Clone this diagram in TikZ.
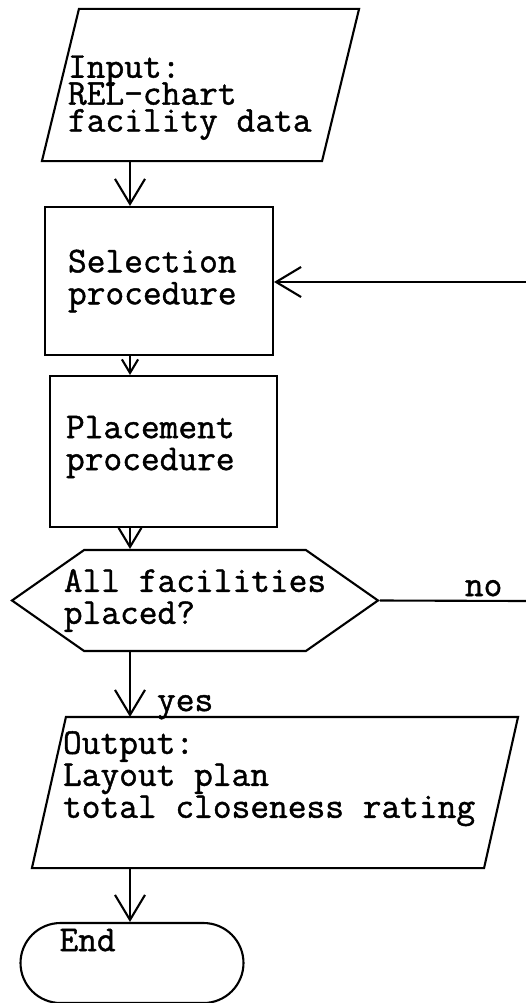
\documentclass[tikz,border=0pt]{standalone}
\usepackage{fontspec}
\usetikzlibrary{arrows.meta,positioning,shapes.misc,shapes.symbols}
\newfontfamily\typewriter{Latin Modern Mono}[FakeBold=1.2]
\newcommand{\flowfont}{\typewriter\fontsize{20.7pt}{18.2pt}\selectfont}
\tikzset{
  outline/.style={draw,line width=1.2pt,font=\flowfont,align=left,inner sep=2pt,
    execute at begin node={\spaceskip=0pt\relax\lineskiplimit=-20pt\relax}},
  procbox/.style={outline,rectangle},
  iobox/.style={outline,rectangle,draw=none,
    append after command={\pgfextra{\draw[line width=1.2pt]
      ([xshift=#1]\tikzlastnode.north west) -- (\tikzlastnode.north east)
      -- ([xshift=-#1]\tikzlastnode.south east) -- (\tikzlastnode.south west) -- cycle;}}},
  testbox/.style={outline,signal,signal to=east and west,signal pointer angle=70,inner xsep=-0.45cm},
  endbox/.style={outline,rounded rectangle},
  flow/.style={line width=1.2pt,-{Straight Barb[length=#1,width'=0pt 1.2]}},
  flow/.default=0.5cm,
  tag/.style={font=\flowfont,inner sep=2pt}
}
\begin{document}
\begin{tikzpicture}
  \useasboundingbox (0,0) rectangle (10.52,-20.06);
  \coordinate (spine) at (2.6,0);
  % boxes
  \node[iobox=0.74cm,minimum width=6.3cm,minimum height=3cm,text width=5.3cm,text height=0.94cm,text depth=1.23cm,
    font=\typewriter\fontsize{20.7pt}{15.3pt}\selectfont] (input) at (4.01,-1.70)
    {Input:\\REL-chart\\facility data};
  \node[procbox,minimum width=4.56cm,minimum height=2.96cm,text width=3.64cm] (select) at (3.18,-5.62)
    {Selection\\procedure};
  \node[procbox,minimum width=4.54cm,minimum height=3.02cm,text width=3.9cm,text depth=0.98cm] (place) at (3.27,-9.03)
    {Placement\\procedure};
  \node[testbox,minimum width=7.32cm,minimum height=2.02cm] (test) at (3.9,-12.01)
    {All facilities\\placed?};
  \node[iobox=0.68cm,minimum width=9.68cm,minimum height=2.98cm,text width=8.48cm,text depth=2cm] (output) at (5.5,-15.85)
    {Output:\\Layout plan\\total closeness rating};
  \node[endbox,minimum width=4.6cm,minimum height=1.6cm,text width=2.9cm,text depth=0.92cm] (stop) at (2.64,-19.26)
    {End};
  \coordinate (back) at (10.52,-5.64);
  \coordinate (noend) at (10.52,-12.02);
  % connectors
  \draw[flow] (input.south -| spine) -- (select.north -| spine);
  \draw[flow=0.27cm] (select.south -| spine) -- (place.north -| spine);
  \draw[flow=0.38cm] (place.south -| spine) -- (test.north -| spine);
  \draw[flow] (test.south -| spine) -- node[tag,right,pos=0.85,xshift=0.45cm] {yes} (output.north -| spine);
  \draw[flow] (output.south -| spine) -- (stop.north -| spine);
  \draw[line width=1.2pt] (test.east) -- node[tag,above,pos=0.71] {no} (noend);
  \draw[flow] (back) -- (select.east |- back);
\end{tikzpicture}
\end{document}
